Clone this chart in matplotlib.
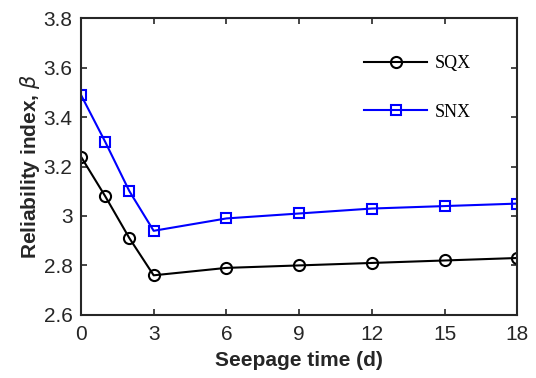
import matplotlib
matplotlib.use("Agg")
import matplotlib.pyplot as plt

days = [0, 1, 2, 3, 6, 9, 12, 15, 18]
sqx = [3.24, 3.08, 2.91, 2.76, 2.79, 2.80, 2.81, 2.82, 2.83]
snx = [3.49, 3.30, 3.10, 2.94, 2.99, 3.01, 3.03, 3.04, 3.05]
xticks = [0, 3, 6, 9, 12, 15, 18]
yticks = [2.6, 2.8, 3.0, 3.2, 3.4, 3.6, 3.8]
ylabels = ["2.6", "2.8", "3", "3.2", "3.4", "3.6", "3.8"]

plt.rcParams['font.family'] = ['Liberation Sans', 'DejaVu Sans']

fig = plt.figure(figsize=(5.36, 3.78), dpi=100)
ax = fig.add_axes([0.151, 0.167, 0.814, 0.785])

ax.plot(days, sqx, color='black', lw=1.5, marker='o', ms=8,
        mfc='none', mew=1.5, label='SQX')
ax.plot(days, snx, color='blue', lw=1.5, marker='s', ms=7,
        mfc='none', mew=1.5, label='SNX')

ax.set_xlim(0, 18)
ax.set_ylim(2.6, 3.8)
ax.set_xticks(xticks)
ax.set_yticks(yticks)
ax.set_yticklabels(ylabels)
ax.tick_params(direction='in', top=True, right=True, labelsize=15,
               colors='#262626', width=1.2, length=4)
ax.tick_params(axis='x', pad=7)
ax.tick_params(axis='y', pad=6)
for s in ax.spines.values():
    s.set_linewidth(1.5)
    s.set_color('#262626')

ax.set_xlabel('Seepage time (d)', fontsize=15, fontweight='bold', color='#262626', labelpad=5)
ax.set_ylabel(r'Reliability index, $\beta$', fontsize=15, fontweight='bold', color='#262626', labelpad=1)

ax.legend(loc='upper right', bbox_to_anchor=(0.93, 0.93), frameon=False,
          prop={'family': 'Liberation Serif', 'size': 13},
          handlelength=3.5, handletextpad=0.4, labelspacing=1.75)

fig.savefig('out.png', dpi=100)
